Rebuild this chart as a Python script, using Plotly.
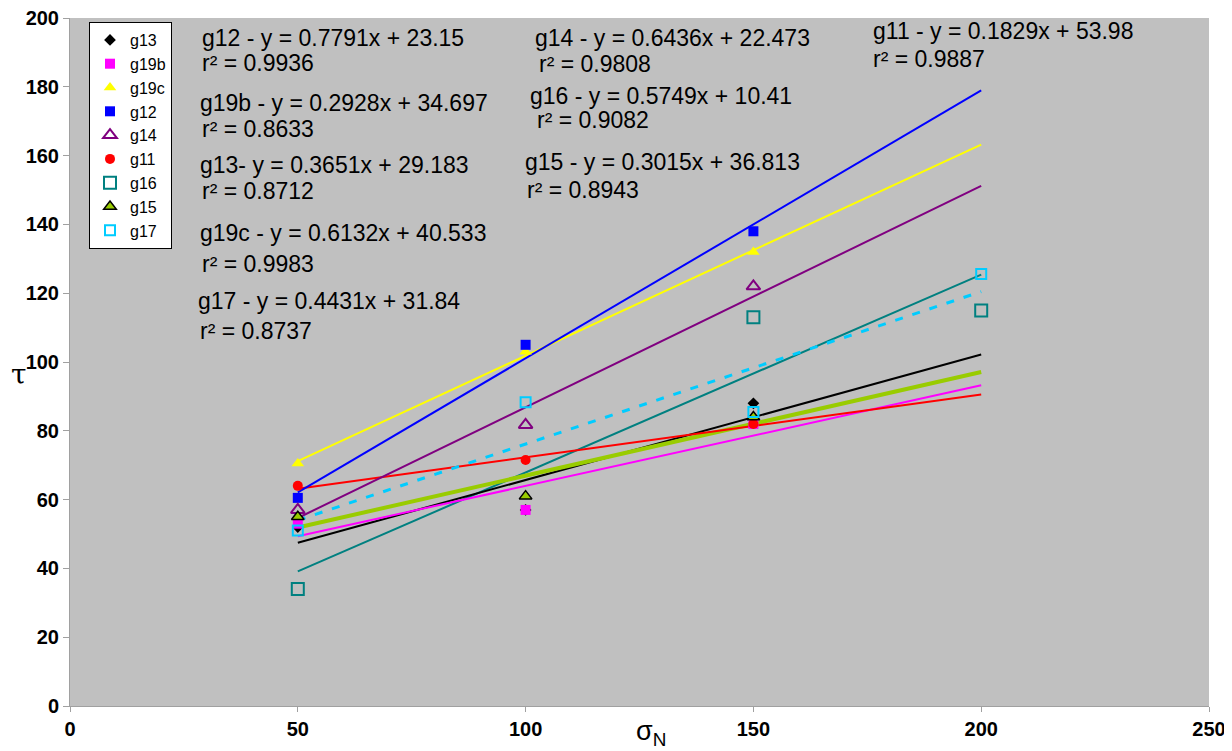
import plotly.graph_objects as go

# ---- data ----
names = ["g13", "g19b", "g19c", "g12", "g14", "g11", "g16", "g15", "g17"]
x_g13 = [50, 100, 150];        y_g13 = [52, 57, 88]
x_g19b = [50, 100, 150];       y_g19b = [53, 57, 82]
x_g19c = [50, 100, 150];       y_g19c = [70.5, 103, 132]
x_g12 = [50, 100, 150];        y_g12 = [60.5, 105, 138]
x_g14 = [50, 100, 150];        y_g14 = [57, 81.7, 122]
x_g11 = [50, 100, 150];        y_g11 = [64, 71.5, 82]
x_g16 = [50, 150, 200];        y_g16 = [34, 113, 115]
x_g15 = [50, 100, 150];        y_g15 = [55, 61, 84]
x_g17 = [50, 100, 150, 200];   y_g17 = [51, 88.3, 85.5, 125.6]

slopes = [0.3651, 0.2928, 0.6132, 0.7791, 0.6436, 0.1829, 0.5749, 0.3015, 0.4431]
intercepts = [29.183, 34.697, 40.533, 23.15, 22.473, 53.98, 10.41, 36.813, 31.84]
r2 = [0.8712, 0.8633, 0.9983, 0.9936, 0.9808, 0.9887, 0.9082, 0.8943, 0.8737]
trend_x = [50, 200]

xs = [x_g13, x_g19b, x_g19c, x_g12, x_g14, x_g11, x_g16, x_g15, x_g17]
ys = [y_g13, y_g19b, y_g19c, y_g12, y_g14, y_g11, y_g16, y_g15, y_g17]

x_ticks = [0, 50, 100, 150, 200, 250]
y_ticks = [0, 20, 40, 60, 80, 100, 120, 140, 160, 180, 200]

# ---- styles ----
colors = ["#000000", "#FF00FF", "#FFFF00", "#0000FF", "#800080",
          "#FF0000", "#008080", "#99CC00", "#00CCFF"]
symbols = ["diamond", "square", "triangle-up", "square", "triangle-up-open",
           "circle", "square-open", "triangle-up", "square-open"]
msizes = [9, 10, 11, 10, 12, 10, 12, 11, 10]
line_widths = [2, 2, 2, 2, 2, 2, 2, 4, 3]
line_dash = ["solid"] * 8 + ["8px,10px"]

# page body has an 8px margin: lay out in window pixels, shifted by OFF
OFF = 8
WIN_W, WIN_H = 1232, 751
W, H = WIN_W - OFF, WIN_H - OFF
PL, PR, PT, PB = 70, 1209, 18, 706       # plot area in window pixels
L, R, T, B = PL - OFF, W - (PR - OFF), PT - OFF, H - (PB - OFF)
pw, ph = W - L - R, H - T - B


def px2paper(px, py):
    return (px - PL) / pw, (PB - py) / ph


fig = go.Figure()

draw_order = [6, 0, 7, 1, 5, 8, 4, 2, 3]
for i in draw_order:
    ty = [slopes[i] * xv + intercepts[i] for xv in trend_x]
    fig.add_trace(go.Scatter(
        x=trend_x, y=ty, mode="lines", showlegend=False, hoverinfo="skip",
        line=dict(color=colors[i], width=line_widths[i], dash=line_dash[i])))

for i, n in enumerate(names):
    mk = dict(symbol=symbols[i], size=msizes[i], color=colors[i])
    if n == "g15":
        mk["line"] = dict(color="black", width=1.5)
    elif symbols[i].endswith("open"):
        mk["line"] = dict(color=colors[i], width=2)
    fig.add_trace(go.Scatter(x=xs[i], y=ys[i], mode="markers", name=n,
                             legendgroup=n, marker=mk))

ann_pos = {
    "g12": (200, 38, 200, 63),
    "g19b": (198, 103, 200, 129),
    "g13": (198, 165, 200, 191),
    "g19c": (198, 233, 200, 264),
    "g17": (196, 301, 198, 331),
    "g14": (533, 38, 537, 64),
    "g16": (528, 96, 535, 120),
    "g15": (523, 162, 525, 190),
    "g11": (871, 31, 871, 59),
}
annotations = []
for i, n in enumerate(names):
    ex, ey, rx, ry = ann_pos[n]
    sep = "- " if n == "g13" else " - "
    eq = f"{n}{sep}y = {slopes[i]}x + {intercepts[i]}"
    for txt, ppx, ppy in [(eq, ex, ey), (f"r² = {r2[i]}", rx, ry)]:
        ax, ay = px2paper(ppx, ppy)
        annotations.append(dict(
            text=txt, x=ax, y=ay, xref="paper", yref="paper",
            xanchor="left", yanchor="middle", showarrow=False,
            font=dict(family="Liberation Sans, Arial", size=23, color="black")))

ax, ay = px2paper(19, 375)
annotations.append(dict(text="τ", x=ax, y=ay, xref="paper", yref="paper",
                        showarrow=False, xanchor="center", yanchor="middle",
                        font=dict(family="DejaVu Serif", size=28, color="black")))
ax, ay = px2paper(651, 733)
annotations.append(dict(text="σ<sub>N</sub>", x=ax, y=ay, xref="paper",
                        yref="paper", showarrow=False, xanchor="center", yanchor="middle",
                        font=dict(family="Liberation Sans, Arial", size=27, color="black")))

lx, ly = px2paper(89, 22)
tick_font = dict(family="Liberation Sans, Arial", size=20, color="black", weight="bold")

fig.update_layout(
    width=W, height=H,
    margin=dict(l=L, r=R, t=T, b=B, autoexpand=False),
    paper_bgcolor="white",
    plot_bgcolor="#C0C0C0",
    annotations=annotations,
    showlegend=True,
    legend=dict(x=lx, y=ly, xanchor="left", yanchor="top",
                bgcolor="white", bordercolor="black", borderwidth=1,
                font=dict(family="Liberation Sans, Arial", size=16, color="black"),
                tracegroupgap=0, itemwidth=30),
    xaxis=dict(range=[0, 250], tickvals=x_ticks, showgrid=False, zeroline=False,
               showline=True, linecolor="#A0A0A0", linewidth=1, automargin=False,
               ticks="outside", ticklen=5, tickcolor="#A0A0A0",
               ticklabeloverflow="allow",
               tickfont=tick_font, fixedrange=True),
    yaxis=dict(range=[0, 200], tickvals=y_ticks, showgrid=False, zeroline=False,
               showline=True, linecolor="#A0A0A0", linewidth=1, automargin=False,
               ticks="outside", ticklen=6, tickcolor="#A0A0A0",
               ticklabeloverflow="allow",
               tickfont=tick_font, fixedrange=True),
)

fig.write_html("out.html")
